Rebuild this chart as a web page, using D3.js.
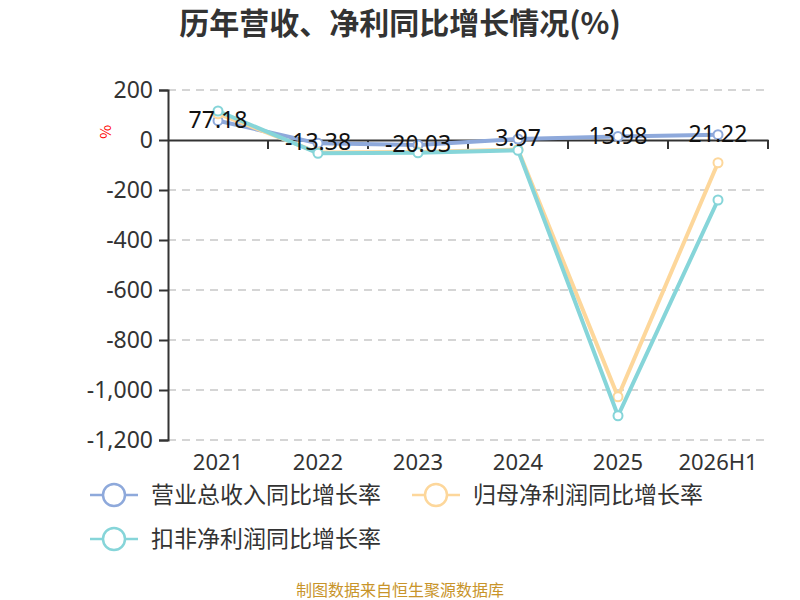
<!DOCTYPE html>
<html>
<head>
<meta charset="utf-8">
<script src="https://cdn.jsdelivr.net/npm/d3@7"></script>
<style>
    body { margin: 0; background: #fff; }
    text { font-family: "Microsoft YaHei", "Noto Sans CJK SC", "Noto Sans", sans-serif; }
</style>
</head>
<body>
<div id="chart"></div>
<script>
var years = ["2021", "2022", "2023", "2024", "2025", "2026H1"];
var revenueGrowth = [77.18, -13.38, -20.03, 3.97, 13.98, 21.22];
var netProfitGrowth = [105, -50, -48, -38, -1027, -91];
var deductedProfitGrowth = [116, -53, -51, -41, -1103, -240];
var yTicks = [200, 0, -200, -400, -600, -800, -1000, -1200];

var seriesNames = ["营业总收入同比增长率", "归母净利润同比增长率", "扣非净利润同比增长率"];
var seriesColors = ["#8ea9db", "#fdd79b", "#86d5d9"];

function init() {
    var w = 800;
    var h = 600;
    var left = 168, right = 768, top = 90, bottom = 440;

    var svg = d3.select("#chart")
        .append("svg")
        .attr("width", w)
        .attr("height", h);

    // Title
    svg.append("text")
        .attr("x", 400)
        .attr("y", 34)
        .attr("text-anchor", "middle")
        .attr("font-size", 30)
        .attr("font-weight", "bold")
        .attr("fill", "#333")
        .text("历年营收、净利同比增长情况(%)");

    var xScale = d3.scaleBand()
        .domain(years)
        .range([left, right]);

    var yScale = d3.scaleLinear()
        .domain([-1200, 200])
        .range([bottom, top]);

    // Grid lines
    svg.append("g")
        .selectAll("line")
        .data(yTicks.filter(d => d !== 0))
        .enter()
        .append("line")
        .attr("x1", left)
        .attr("x2", right)
        .attr("y1", d => yScale(d))
        .attr("y2", d => yScale(d))
        .attr("stroke", "#c8c8c8")
        .attr("stroke-width", 1.5)
        .attr("stroke-dasharray", "8,6");

    // Y axis (plain hyphen for negatives, like the reference)
    var fmt = d3.format(",");
    var yAxis = d3.axisLeft(yScale)
        .tickValues(yTicks)
        .tickSize(9)
        .tickFormat(d => fmt(d).replace("\u2212", "-"));

    var gy = svg.append("g")
        .attr("transform", `translate(${left}, 0)`)
        .call(yAxis);
    gy.select(".domain").attr("stroke", "#333").attr("stroke-width", 2);
    gy.selectAll(".tick line").attr("stroke", "#333").attr("stroke-width", 2);
    gy.selectAll(".tick text")
        .attr("font-size", 23)
        .attr("fill", "#333")
        .attr("x", -15)
        .style("font-family", "'Noto Sans', sans-serif");

    // X axis at zero
    var xAxis = d3.axisBottom(xScale)
        .tickSize(0)
        .tickFormat("");
    var gx = svg.append("g")
        .attr("transform", `translate(0, ${yScale(0)})`)
        .call(xAxis);
    gx.select(".domain").attr("stroke", "#333").attr("stroke-width", 2);

    // band boundary ticks
    svg.append("g")
        .selectAll("line")
        .data(years)
        .enter()
        .append("line")
        .attr("x1", d => xScale(d) + xScale.bandwidth())
        .attr("x2", d => xScale(d) + xScale.bandwidth())
        .attr("y1", yScale(0))
        .attr("y2", yScale(0) + 9)
        .attr("stroke", "#333")
        .attr("stroke-width", 2);

    // X labels at bottom
    svg.append("g")
        .selectAll("text")
        .data(years)
        .enter()
        .append("text")
        .attr("x", d => xScale(d) + xScale.bandwidth() / 2)
        .attr("y", 470)
        .attr("text-anchor", "middle")
        .attr("font-size", 22)
        .attr("fill", "#333")
        .style("font-family", "'Noto Sans', sans-serif")
        .text(d => d);

    // y axis name
    svg.append("text")
        .attr("transform", "translate(100, 132) rotate(90)")
        .attr("text-anchor", "middle")
        .attr("font-size", 15)
        .attr("fill", "#f00")
        .text("%");

    var allSeries = [revenueGrowth, netProfitGrowth, deductedProfitGrowth];

    var line = d3.line()
        .x((d, i) => xScale(years[i]) + xScale.bandwidth() / 2)
        .y(d => yScale(d));

    allSeries.forEach(function (values, k) {
        svg.append("path")
            .datum(values)
            .attr("d", line)
            .attr("fill", "none")
            .attr("stroke", seriesColors[k])
            .attr("stroke-width", 4);

        svg.append("g")
            .selectAll("circle")
            .data(values)
            .enter()
            .append("circle")
            .attr("cx", (d, i) => xScale(years[i]) + xScale.bandwidth() / 2)
            .attr("cy", d => yScale(d))
            .attr("r", 4.5)
            .attr("fill", "#fff")
            .attr("stroke", seriesColors[k])
            .attr("stroke-width", 2);
    });

    // value labels for revenue growth
    svg.append("g")
        .selectAll("text")
        .data(revenueGrowth)
        .enter()
        .append("text")
        .attr("x", (d, i) => xScale(years[i]) + xScale.bandwidth() / 2)
        .attr("y", d => yScale(d) + 7)
        .attr("text-anchor", "middle")
        .attr("font-size", 23)
        .attr("fill", "#111")
        .style("font-family", "'Noto Sans', sans-serif")
        .text(d => d.toFixed(2));

    // Legend
    var legendPos = [[90, 495], [412, 495], [90, 539]];
    seriesNames.forEach(function (name, k) {
        var g = svg.append("g")
            .attr("transform", `translate(${legendPos[k][0]}, ${legendPos[k][1]})`);
        g.append("line")
            .attr("x1", 0).attr("x2", 48)
            .attr("y1", 0).attr("y2", 0)
            .attr("stroke", seriesColors[k])
            .attr("stroke-width", 2.5);
        g.append("circle")
            .attr("cx", 24).attr("cy", 0).attr("r", 11)
            .attr("fill", "#fff")
            .attr("stroke", seriesColors[k])
            .attr("stroke-width", 2.5);
        g.append("text")
            .attr("x", 61)
            .attr("y", 8)
            .attr("font-size", 23)
            .attr("fill", "#333")
            .text(name);
    });

    // Footer
    svg.append("text")
        .attr("x", 400)
        .attr("y", 596)
        .attr("text-anchor", "middle")
        .attr("font-size", 16)
        .attr("fill", "#c8942a")
        .text("制图数据来自恒生聚源数据库");
}

window.onload = init;
</script>
</body>
</html>
